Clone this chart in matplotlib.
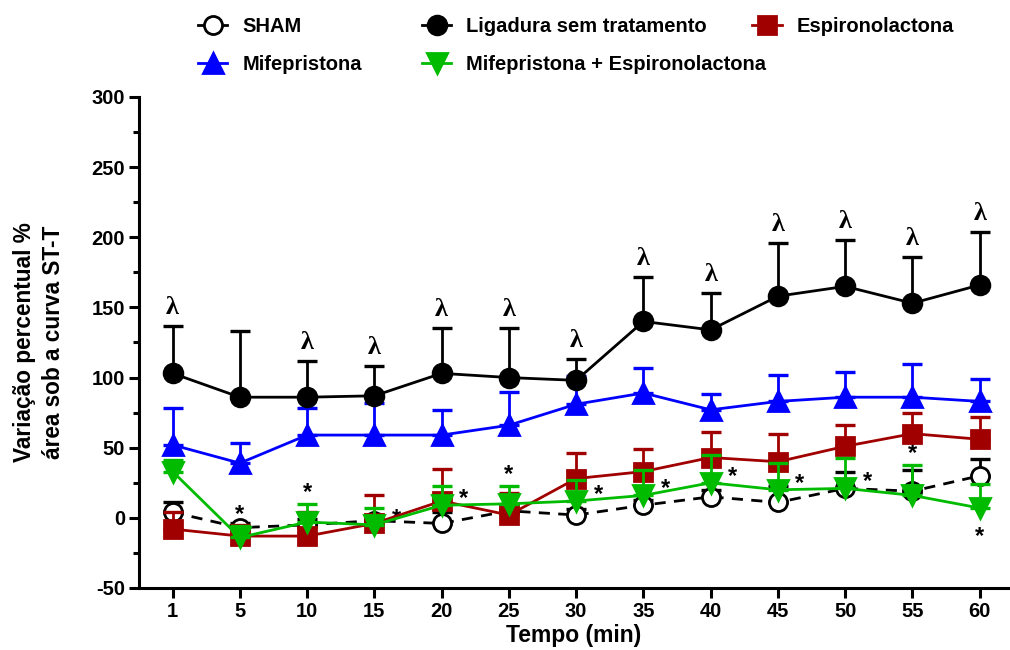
import matplotlib

matplotlib.use("Agg")
import matplotlib.pyplot as plt
import numpy as np
from matplotlib.lines import Line2D
from matplotlib.ticker import MultipleLocator

plt.rcParams["font.family"] = ["Liberation Sans", "DejaVu Sans"]
plt.rcParams["font.weight"] = "bold"
plt.rcParams["axes.unicode_minus"] = False

# tempo de observação (min)
tempos = [1, 5, 10, 15, 20, 25, 30, 35, 40, 45, 50, 55, 60]

# médias e erro (apenas barra superior) por grupo
sham = [4, -7, -5, -2, -4, 5, 2, 9, 15, 11, 21, 19, 30]
sham_err = [7, 3, 4, 4, 8, 4, 4, 4, 5, 12, 12, 15, 12]

ligadura = [103, 86, 86, 87, 103, 100, 98, 140, 134, 158, 165, 153, 166]
ligadura_err = [34, 47, 26, 21, 32, 35, 15, 32, 26, 38, 33, 33, 38]

espiro = [-8, -13, -13, -4, 12, 2, 28, 33, 43, 40, 51, 60, 56]
espiro_err = [12, 8, 17, 20, 23, 16, 18, 16, 18, 20, 15, 15, 16]

mife = [52, 39, 59, 59, 59, 66, 81, 89, 77, 83, 86, 86, 83]
mife_err = [26, 14, 19, 23, 18, 24, 20, 18, 11, 19, 18, 24, 16]

mife_espiro = [33, -14, -3, -5, 9, 10, 12, 16, 25, 20, 21, 16, 7]
mife_espiro_err = [8, 8, 13, 12, 14, 13, 15, 18, 20, 19, 22, 22, 17]

# significância: lambda (ligadura) e asterisco (mife + espiro)
lambda_pts = [1, 10, 15, 20, 25, 30, 35, 40, 45, 50, 55, 60]
star_pos = ["", "above", "above", "right", "right", "above", "right",
            "right", "right", "right", "right", "above", "below"]

x = np.arange(len(tempos))

fig = plt.figure(figsize=(10.1, 6.5), dpi=100)
ax = fig.add_axes([0.1376, 0.0954, 0.8604, 0.7554])


def serie(vals, err, color, marker, ms, mfc=None, ls="-", z=3):
    vals = np.asarray(vals, float)
    err = np.asarray(err, float)
    ax.errorbar(x, vals, yerr=[np.zeros_like(err), err], fmt="none",
                ecolor=color, elinewidth=2.0, capsize=7.5, capthick=2.4,
                zorder=z)
    ax.plot(x, vals, color=color, ls=ls, lw=2.0, marker=marker, ms=ms,
            mfc=mfc or color, mec=color, mew=2.0, zorder=z + 0.1,
            dashes=(4, 3) if ls == "--" else (None, None))


serie(sham, sham_err, "black", "o", 13, mfc="white", ls="--", z=2)
serie(espiro, espiro_err, "#A00000", "s", 13, z=3)
serie(mife, mife_err, "#0000FF", "^", 14.5, z=4)
serie(mife_espiro, mife_espiro_err, "#00BB00", "v", 14.5, z=5)
serie(ligadura, ligadura_err, "black", "o", 13.5, z=6)

# lambda sobre a barra de erro da ligadura
for t in lambda_pts:
    i = tempos.index(t)
    ax.annotate("λ", (x[i], ligadura[i] + ligadura_err[i]),
                xytext=(0, 7), textcoords="offset pixels",
                ha="center", va="bottom", fontsize=19,
                family=["Liberation Serif", "DejaVu Serif"], weight="bold")

# asteriscos do grupo mifepristona + espironolactona
for i, pos in enumerate(star_pos):
    if not pos:
        continue
    top = mife_espiro[i] + mife_espiro_err[i]
    if pos == "above":
        xy, off = (x[i], top), (0, 0)
    elif pos == "right":
        xy, off = (x[i], mife_espiro[i]), (22, -5)
    else:
        xy, off = (x[i], mife_espiro[i]), (0, -40)
    ax.annotate("*", xy, xytext=off, textcoords="offset pixels",
                ha="center", va="bottom", fontsize=17, weight="bold")

ax.set_xlim(-0.5, 12.42)
ax.set_ylim(-50, 300)
ax.set_xticks(x)
ax.set_xticklabels([str(t) for t in tempos])
ax.yaxis.set_major_locator(MultipleLocator(50))
ax.yaxis.set_minor_locator(MultipleLocator(25))
ax.tick_params(axis="both", which="major", direction="out", length=7,
               width=2.2, labelsize=14.5, pad=3)
ax.tick_params(axis="y", which="minor", direction="out", length=4, width=2.2)
for lbl in ax.get_xticklabels() + ax.get_yticklabels():
    lbl.set_fontweight("bold")

for s in ("top", "right"):
    ax.spines[s].set_visible(False)
for s in ("left", "bottom"):
    ax.spines[s].set_linewidth(2.2)

ax.set_xlabel("Tempo (min)", fontsize=16.5, weight="bold", labelpad=2)
ax.set_ylabel("Variação percentual %\nárea sob a curva ST-T", fontsize=16.3,
              weight="bold", labelpad=19, linespacing=1.35)


def handle(color, marker, ms, mfc=None):
    return Line2D([], [], color=color, lw=2.0, marker=marker, ms=ms,
                  mfc=mfc or color, mec=color, mew=2.0)


leg_kw = dict(frameon=False, fontsize=14.5, handlelength=1.45,
              handletextpad=0.75, labelspacing=0.95, borderpad=0,
              borderaxespad=0, loc="upper left")
col1 = fig.legend([handle("black", "o", 13, "white"),
                   handle("#0000FF", "^", 14.5)],
                  ["SHAM", "Mifepristona"],
                  bbox_to_anchor=(0.196, 0.974), **leg_kw)
col2 = fig.legend([handle("black", "o", 13.5),
                   handle("#00BB00", "v", 14.5)],
                  ["Ligadura sem tratamento",
                   "Mifepristona + Espironolactona"],
                  bbox_to_anchor=(0.418, 0.974), **leg_kw)
col3 = fig.legend([handle("#A00000", "s", 13)], ["Espironolactona"],
                  bbox_to_anchor=(0.745, 0.974), **leg_kw)

fig.savefig("out.png", dpi=100, facecolor="white")
